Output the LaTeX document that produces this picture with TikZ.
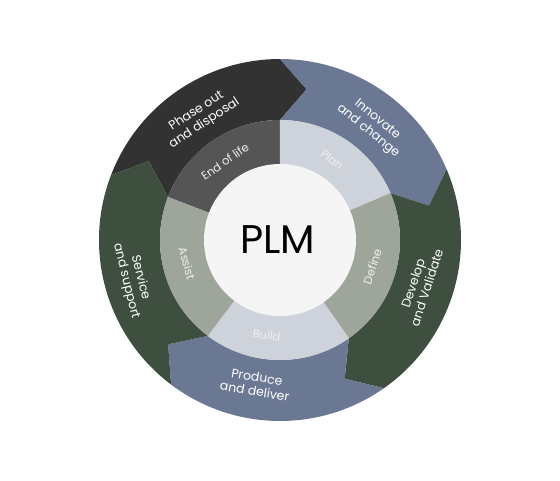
\documentclass[tikz,border=0pt]{standalone}
\usepackage{fontspec}
\setmainfont{Poppins}
\usepackage{xcolor}
\definecolor{darkband}{HTML}{323232}
\definecolor{blueband}{HTML}{6B7893}
\definecolor{greenband}{HTML}{3E4F3F}
\definecolor{lifegray}{HTML}{555555}
\definecolor{planlight}{HTML}{CED2DB}
\definecolor{definegreen}{HTML}{9EA59B}
\definecolor{hubwhite}{HTML}{F5F5F5}

\begin{document}
\begin{tikzpicture}
  [x=1pt,y=1pt,
   outer label/.style={text=white,align=center,font=\fontsize{12.5}{14.5}\selectfont},
   inner label/.style={text=white!94!black,align=center,font=\fontsize{11.5}{13}\selectfont}]
  \useasboundingbox (-280,-240) rectangle (280,240);

  % outer arrows, clockwise
  \foreach \a/\b/\col in {159/90/darkband,90/23/blueband,23/-55/greenband,-55/-127/blueband,-127/-201/greenband}
    \fill[\col] (\a:181) arc[start angle=\a,end angle=\b,radius=181] -- (\b-10:153)
      -- (\b:120) arc[start angle=\b,end angle=\a,radius=120] -- (\a-10:153) -- cycle;

  % inner ring
  \foreach \a/\b/\col in {159/90/lifegray,90/23/planlight,23/-55/definegreen,-55/-127/planlight,-127/-201/definegreen}
    \fill[\col] (0,0) -- (\a:120) arc[start angle=\a,end angle=\b,radius=120] -- cycle;
  \fill[hubwhite] (0,0) circle[radius=76];

  \node (plm) at (-2,0) {\fontsize{40}{44}\selectfont PLM};

  \foreach \ang/\rad/\rot/\nm/\txt in {123/146/33/phase/{Phase out\\and disposal},
      51/147/-39/innovate/{Innovate\\and change},
      -18/147/72/develop/{Develop\\and Validate},
      -99.5/146/-9.5/produce/{Produce\\and deliver},
      195/152/-76/service/{Service\\and support}}
    \node[outer label,rotate=\rot] (\nm) at (\ang:\rad) {\txt};

  \foreach \ang/\rot/\nm/\txt in {125/35/endlife/{End of life},57/-38/plan/Plan,
      -16/72/define/Define,-98/-8/build/Build,194/-74/assist/Assist}
    \node[inner label,rotate=\rot] (\nm) at (\ang:96) {\txt};
\end{tikzpicture}
\end{document}
